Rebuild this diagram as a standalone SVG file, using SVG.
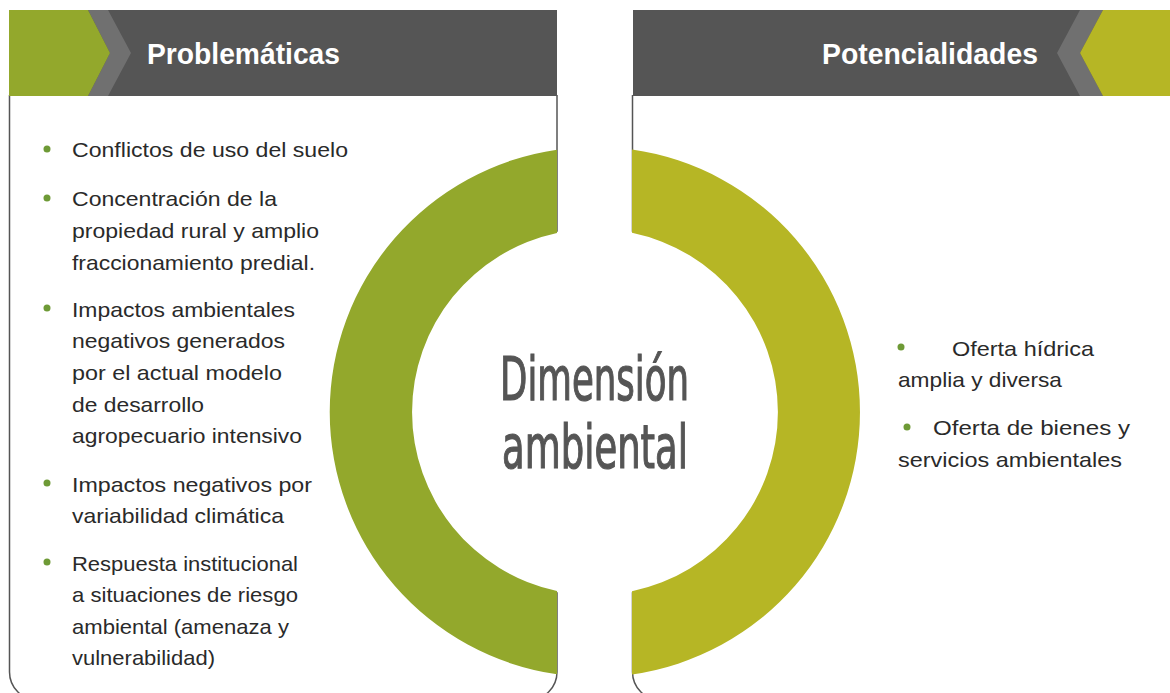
<svg xmlns="http://www.w3.org/2000/svg" width="1170" height="693" viewBox="0 0 1170 693">
  <style>
    .panel { fill: #ffffff; stroke: #555555; stroke-width: 1.5; }
    .hdr { fill: #555555; }
    .chev { fill: #707070; }
    .htxt { font-family: "Liberation Sans Narrow", "Liberation Sans", Arial, sans-serif; font-weight: bold; font-size: 29px; fill: #ffffff; }
    .item { font-family: "Liberation Sans", Arial, sans-serif; font-size: 21px; fill: #2a2a2a; }
    .dot { fill: #6e9a36; }
    .center { font-family: "Liberation Sans Narrow", "DejaVu Sans Condensed", sans-serif; font-size: 60px; fill: #555555; stroke: #555555; stroke-width: 1.2; }
  </style>

  <!-- Left panel: Problemáticas -->
  <g id="panel-problematicas">
    <path class="panel" d="M 9.5,95 V 672 A 28 28 0 0 0 37.5,700 H 529 A 28 28 0 0 0 557,672 V 95"/>
    <rect class="hdr" x="9" y="10" width="548" height="86"/>
    <polygon class="chev" points="88,10 108,10 131,53 108,96 88,96 110,53"/>
    <polygon fill="#93a82c" points="9,10 88,10 110,53 88,96 9,96"/>
    <text class="htxt" x="147" y="64" textLength="193" lengthAdjust="spacingAndGlyphs">Problemáticas</text>
  </g>

  <!-- Right panel: Potencialidades -->
  <g id="panel-potencialidades">
    <path class="panel" d="M 632.5,95 V 672 A 28 28 0 0 0 660.5,700 H 1180"/>
    <rect class="hdr" x="633" y="10" width="537" height="86"/>
    <polygon class="chev" points="1080,10 1103,10 1080,53 1103,96 1080,96 1057,53"/>
    <polygon fill="#b6b625" points="1103,10 1170,10 1170,96 1103,96 1080,53"/>
    <text class="htxt" x="822" y="64" textLength="216" lengthAdjust="spacingAndGlyphs">Potencialidades</text>
  </g>

  <!-- Central ring -->
  <g id="ring-center">
    <circle cx="594.5" cy="412" r="184" fill="#ffffff"/>
  </g>
  <g id="ring-left">
    <path fill="#93a82c" d="M 557,149.7 A 265 265 0 0 0 557,674.3 L 557,591 A 183 183 0 0 1 557,233 Z"/>
  </g>
  <g id="ring-right">
    <path fill="#b6b625" d="M 632,149.6 A 265 265 0 0 1 632,674.4 L 632,591.2 A 183 183 0 0 0 632,232.8 Z"/>
  </g>

  <g id="center-label">
    <text class="center" x="500" y="400" textLength="189" lengthAdjust="spacingAndGlyphs">Dimensión</text>
    <text class="center" x="502" y="468" textLength="186" lengthAdjust="spacingAndGlyphs">ambiental</text>
  </g>

  <!-- Left list -->
  <g id="list-problematicas">
    <circle class="dot" cx="47" cy="149" r="3.5"/>
    <text class="item" x="72" y="157" textLength="276" lengthAdjust="spacingAndGlyphs">Conflictos de uso del suelo</text>

    <circle class="dot" cx="47" cy="198" r="3.5"/>
    <text class="item" x="72" y="206" textLength="205" lengthAdjust="spacingAndGlyphs">Concentración de la</text>
    <text class="item" x="72" y="238" textLength="247" lengthAdjust="spacingAndGlyphs">propiedad rural y amplio</text>
    <text class="item" x="72" y="270" textLength="243" lengthAdjust="spacingAndGlyphs">fraccionamiento predial.</text>

    <circle class="dot" cx="47" cy="308" r="3.5"/>
    <text class="item" x="72" y="317" textLength="223" lengthAdjust="spacingAndGlyphs">Impactos ambientales</text>
    <text class="item" x="72" y="348" textLength="213" lengthAdjust="spacingAndGlyphs">negativos generados</text>
    <text class="item" x="72" y="380" textLength="210" lengthAdjust="spacingAndGlyphs">por el actual modelo</text>
    <text class="item" x="72" y="412" textLength="132" lengthAdjust="spacingAndGlyphs">de desarrollo</text>
    <text class="item" x="72" y="443" textLength="230" lengthAdjust="spacingAndGlyphs">agropecuario intensivo</text>

    <circle class="dot" cx="47" cy="483" r="3.5"/>
    <text class="item" x="72" y="492" textLength="240" lengthAdjust="spacingAndGlyphs">Impactos negativos por</text>
    <text class="item" x="72" y="523" textLength="212" lengthAdjust="spacingAndGlyphs">variabilidad climática</text>

    <circle class="dot" cx="47" cy="562" r="3.5"/>
    <text class="item" x="72" y="571" textLength="226" lengthAdjust="spacingAndGlyphs">Respuesta institucional</text>
    <text class="item" x="72" y="602" textLength="226" lengthAdjust="spacingAndGlyphs">a situaciones de riesgo</text>
    <text class="item" x="72" y="634" textLength="217" lengthAdjust="spacingAndGlyphs">ambiental (amenaza y</text>
    <text class="item" x="72" y="665" textLength="143" lengthAdjust="spacingAndGlyphs">vulnerabilidad)</text>
  </g>

  <!-- Right list -->
  <g id="list-potencialidades">
    <circle class="dot" cx="901" cy="347" r="3.5"/>
    <text class="item" x="952" y="356" textLength="142" lengthAdjust="spacingAndGlyphs">Oferta hídrica</text>
    <text class="item" x="898" y="387" textLength="164" lengthAdjust="spacingAndGlyphs">amplia y diversa</text>

    <circle class="dot" cx="907" cy="427" r="3.5"/>
    <text class="item" x="933" y="435" textLength="197" lengthAdjust="spacingAndGlyphs">Oferta de bienes y</text>
    <text class="item" x="898" y="467" textLength="224" lengthAdjust="spacingAndGlyphs">servicios ambientales</text>
  </g>

  <g id="connectors"></g>
</svg>
